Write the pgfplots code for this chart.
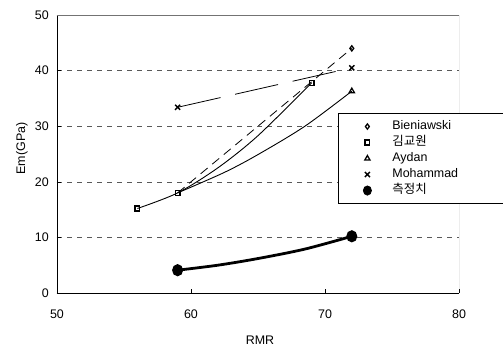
\documentclass[border=0pt]{standalone}
\usepackage{fontspec}
\setmainfont{Liberation Sans}
\newfontfamily\kr{Noto Sans CJK KR}
\usepackage{pgfplots}
\pgfplotsset{compat=1.18}
\begin{document}
\fontsize{12}{14}\selectfont
\begin{tikzpicture}
\useasboundingbox (-57bp,-61bp) rectangle (446bp,293bp);
\begin{axis}[
  scale only axis, width=402bp, height=278bp,
  xmin=50, xmax=80, ymin=0, ymax=50,
  xtick={50,60,70,80}, ytick={0,10,20,30,40,50},
  tick align=inside, major tick length=4bp,
  tick style={black, line width=0.6pt},
  ymajorgrids,
  major grid style={dash pattern=on 5bp off 5bp, black!65, line width=0.6pt},
  axis x line*=bottom, axis y line*=left,
  axis line style={black, line width=0.8pt, -},
  /pgf/number format/assume math mode=true,
  tick label style={font=\fontsize{12.5}{14}\selectfont},
  xticklabel style={yshift=-13bp},
  yticklabel style={xshift=-4bp},
  xlabel={RMR}, ylabel={Em(GPa)},
  xlabel style={at={(axis description cs:0.505,-0.169)}, anchor=center},
  ylabel style={at={(axis description cs:-0.087,0.52)}, anchor=center},
  label style={font=\fontsize{12.5}{14}\selectfont},
  legend style={at={(axis description cs:0.699,0.647)}, anchor=north west,
    draw=black, line width=0.8pt, fill=white, inner xsep=0pt, inner ysep=5bp,
    row sep=0pt,
    nodes={draw=none, text width=112bp, inner xsep=4bp, inner ysep=2bp, text height=9bp, text depth=3bp, align=left,
           font=\fontsize{12.5}{14}\selectfont}},
  legend cell align=left,
  legend image code/.code={%
    \path[draw=none, fill=none] (-29bp,-6bp) rectangle (21bp,6bp);
    \draw[#1] plot coordinates {(0bp,0bp)};},
]
% grey top and right frame
\draw[black!55, line width=0.8pt] (rel axis cs:0,1) -- (rel axis cs:1,1) -- (rel axis cs:1,0);

% Bieniawski
\addplot[black, line width=0.8pt, dash pattern=on 9bp off 6bp, mark=diamond, mark size=2.6bp,
  mark options={solid, line width=1.3pt}, forget plot, mark indices={2}]
  coordinates {(59,18)(72,44)};
% Kim Kyo-won
\addplot[black, line width=0.9pt, smooth, mark=square, mark size=2.4bp,
  mark options={solid, line width=1.4pt}, mark indices={1,2,5}, forget plot]
  coordinates {(56,15.2)(59,18)(62,22.5)(65,28.3)(69,37.8)};
% Aydan
\addplot[black, line width=0.9pt, smooth, mark=triangle, mark size=3bp,
  mark options={solid, line width=1.3pt}, mark indices={5}, forget plot]
  coordinates {(59,18)(62.5,21.7)(65,24.9)(68.5,30.0)(72,36.3)};
% Mohammad
\addplot[black, line width=0.8pt, dash pattern=on 44bp off 15bp, mark=x, mark size=3.6bp,
  mark options={solid, line width=1.4pt}, forget plot]
  coordinates {(59,33.4)(72,40.5)};
% measured
\addplot[black, line width=2.8pt, smooth, mark=*, mark size=4.6bp,
  mark options={solid, xscale=0.88}, mark indices={1,5}, forget plot]
  coordinates {(59,4.1)(62,5.0)(65,6.2)(68.5,7.9)(72,10.2)};

\addlegendimage{only marks, mark=diamond, mark size=2.6bp, mark options={line width=1.3pt}, black}
\addlegendentry{Bieniawski}
\addlegendimage{only marks, mark=square, mark size=2.4bp, mark options={line width=1.4pt}, black}
\addlegendentry{{\kr 김교원}}
\addlegendimage{only marks, mark=triangle, mark size=3bp, mark options={line width=1.3pt}, black}
\addlegendentry{Aydan}
\addlegendimage{only marks, mark=x, mark size=3.6bp, mark options={line width=1.4pt}, black}
\addlegendentry{Mohammad}
\addlegendimage{only marks, mark=*, mark size=4.6bp, mark options={xscale=0.88}, black}
\addlegendentry{{\kr 측정치}}
\end{axis}
\end{tikzpicture}
\end{document}
